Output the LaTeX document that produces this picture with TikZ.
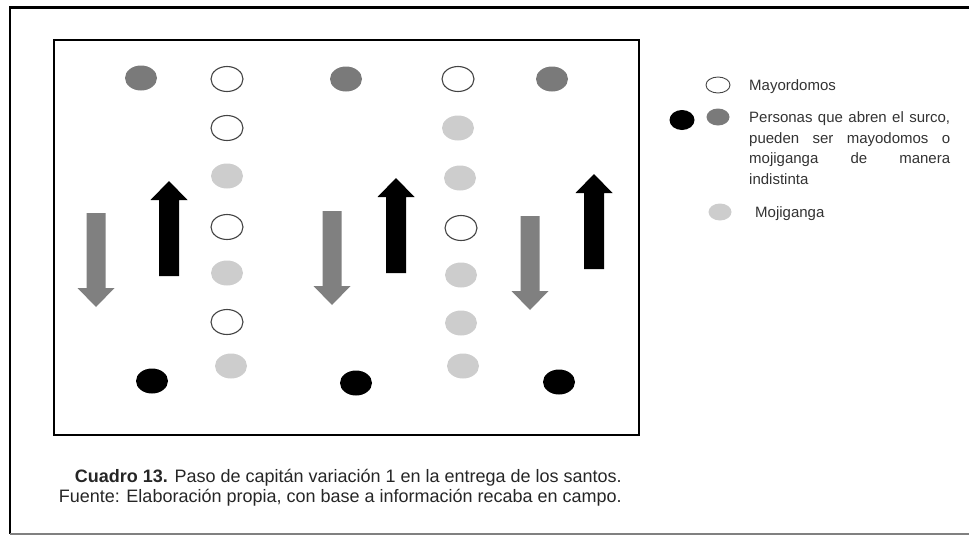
\documentclass[tikz,border=0pt]{standalone}
\usepackage{fontspec}
\setmainfont{Liberation Sans}
\usetikzlibrary{shapes.geometric}
\definecolor{dgray}{HTML}{7A7A7A}
\definecolor{lgray}{HTML}{CDCDCD}
\definecolor{agray}{HTML}{808080}
\definecolor{ogray}{HTML}{444444}
\definecolor{tgray}{HTML}{333333}
\begin{document}
\begin{tikzpicture}[x=1pt,y=-1pt,
  dot/.style={ellipse, inner sep=0pt, minimum width=32pt, minimum height=25pt},
  may/.style={dot, draw=ogray, line width=1.1pt, fill=white},
  sur/.style={dot, fill=dgray},
  surb/.style={dot, fill=black},
  moj/.style={dot, fill=lgray},
  ldot/.style={ellipse, inner sep=0pt, minimum width=24pt, minimum height=17pt},
  lgtxt/.style={anchor=base west, inner sep=0pt, font=\fontsize{15}{18}\selectfont, text=tgray},
  captxt/.style={anchor=base east, inner sep=0pt, font=\fontsize{18}{21}\selectfont, text=black!85},
  downarr/.pic={\fill (-9.5,0) -- (9.5,0) -- (9.5,75) -- (18.5,75) -- (0,94) -- (-18.5,75) -- (-9.5,75) -- cycle;},
  uparr/.pic={\fill (0,0) -- (18.5,19) -- (10,19) -- (10,95) -- (-10,95) -- (-10,19) -- (-18.5,19) -- cycle;}]
\useasboundingbox (0,0) rectangle (969,536);
% outer frame
\draw[line width=2.6pt] (969,7.5) -- (10,7.5) -- (10,534);
\draw[line width=1.6pt, gray] (10,534) -- (969,534);
% inner box
\draw[line width=1.4pt] (54,40) rectangle (639,435);
% column 1
\node[sur] (a1) at (141,78) {};
\node[surb] (a2) at (152,381) {};
% column 2
\node[may] (b1) at (227,79) {};
\node[may] (b2) at (227,128) {};
\node[moj] (b3) at (227,176) {};
\node[may] (b4) at (227,227) {};
\node[moj] (b5) at (227,273) {};
\node[may] (b6) at (227,322) {};
\node[moj] (b7) at (231,366) {};
% column 3
\node[sur] (c1) at (346,79) {};
\node[surb] (c2) at (356,383) {};
% column 4
\node[may] (d1) at (458,79) {};
\node[moj] (d2) at (458,128) {};
\node[moj] (d3) at (460,178) {};
\node[may] (d4) at (461,228) {};
\node[moj] (d5) at (461,275) {};
\node[moj] (d6) at (461,323) {};
\node[moj] (d7) at (463,366) {};
% column 5
\node[sur] (e1) at (552,79) {};
\node[surb] (e2) at (559,382) {};
% arrows
\pic[agray] (g1) at (96,213) {downarr};
\pic[black] (k1) at (169,181) {uparr};
\pic[agray] (g2) at (332,211) {downarr};
\pic[black] (k2) at (396,178) {uparr};
\pic[agray] (g3) at (530,216) {downarr};
\pic[black] (k3) at (594,174) {uparr};
% legend
\node[ldot, draw=ogray, line width=0.9pt, fill=white, minimum height=16pt] (lm) at (718,85) {};
\node[lgtxt] (tm) at (749,90) {Mayordomos};
\node[ldot, fill=black, minimum width=25pt, minimum height=20pt] (lb) at (682,120) {};
\node[ldot, fill=dgray, minimum width=23pt] (ls) at (718,117) {};
\node[lgtxt] (tp1) at (749,122) {\makebox[201pt][s]{Personas que abren el surco,}};
\node[lgtxt] (tp2) at (749,143) {\makebox[201pt][s]{pueden ser mayodomos o}};
\node[lgtxt] (tp3) at (749,163.5) {\makebox[201pt][s]{mojiganga de manera}};
\node[lgtxt] (tp4) at (749,184) {indistinta};
\node[ldot, fill=lgray, minimum width=23pt] (lj) at (720,212) {};
\node[lgtxt] (tj) at (755,217) {Mojiganga};
% caption
\node[captxt] (cap1) at (622,482) {\textbf{Cuadro 13.} Paso de capitán variación 1 en la entrega de los santos.};
\node[captxt] (cap2) at (622,502) {Fuente: Elaboración propia, con base a información recaba en campo.};
\end{tikzpicture}
\end{document}
